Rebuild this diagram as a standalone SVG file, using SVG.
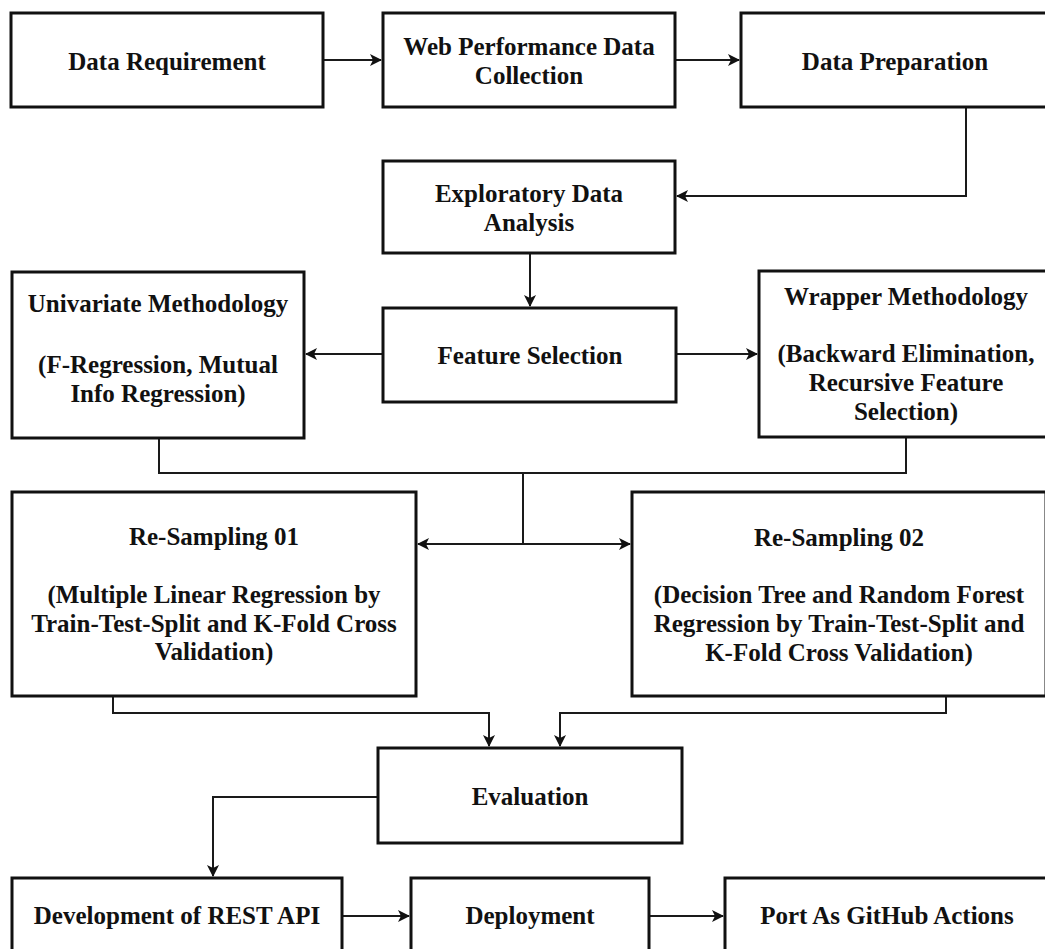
<svg xmlns="http://www.w3.org/2000/svg" width="1045" height="949" viewBox="0 0 1045 949">
<style>
.nodebox{fill:#fff;stroke:#111;stroke-width:3}
.link{fill:none;stroke:#1a1a1a;stroke-width:2}
</style>
<defs>
<marker id="ah" viewBox="0 0 12 12" refX="11" refY="6" markerWidth="12" markerHeight="12" markerUnits="userSpaceOnUse" orient="auto">
<path d="M0,0 L12,6 L0,12 L3,6 z" fill="#111"/>
</marker>
</defs>
<rect width="1045" height="949" fill="#fff"/>
<g id="connectors">
<path class="link" d="M323,60 H381" marker-end="url(#ah)"/>
<path class="link" d="M675,60 H739" marker-end="url(#ah)"/>
<path class="link" d="M966,107 V196 H677" marker-end="url(#ah)"/>
<path class="link" d="M530,253 V306" marker-end="url(#ah)"/>
<path class="link" d="M383,354 H306" marker-end="url(#ah)"/>
<path class="link" d="M676,354 H757" marker-end="url(#ah)"/>
<path class="link" d="M159,438 V473 H906 V437"/>
<path class="link" d="M523,473 V544"/>
<path class="link" d="M523,544 H418" marker-end="url(#ah)"/>
<path class="link" d="M523,544 H630" marker-end="url(#ah)"/>
<path class="link" d="M113,696 V713 H489 V746" marker-end="url(#ah)"/>
<path class="link" d="M946,696 V713 H560 V746" marker-end="url(#ah)"/>
<path class="link" d="M378,797 H213 V876" marker-end="url(#ah)"/>
<path class="link" d="M342,916 H409" marker-end="url(#ah)"/>
<path class="link" d="M649,916 H723" marker-end="url(#ah)"/>
</g>
<g id="nodes" font-weight="bold" font-size="25" fill="#111" text-anchor="middle">
<g id="data-requirement">
<rect class="nodebox" x="11" y="13" width="312" height="94"/>
<text font-family="Liberation Serif" x="167" y="70">Data Requirement</text>
</g>
<g id="web-performance">
<rect class="nodebox" x="383" y="13" width="292" height="94"/>
<text font-family="Liberation Serif" x="529" y="55">Web Performance Data</text>
<text font-family="Liberation Serif" x="529" y="84">Collection</text>
</g>
<g id="data-preparation">
<rect class="nodebox" x="741" y="13" width="310" height="94"/>
<text font-family="Liberation Serif" x="895" y="70">Data Preparation</text>
</g>
<g id="eda">
<rect class="nodebox" x="383" y="161" width="292" height="92"/>
<text font-family="Liberation Serif" x="529" y="202">Exploratory Data</text>
<text font-family="Liberation Serif" x="529" y="231">Analysis</text>
</g>
<g id="feature-selection">
<rect class="nodebox" x="383" y="308" width="293" height="94"/>
<text font-family="Liberation Serif" x="530" y="364">Feature Selection</text>
</g>
<g id="univariate">
<rect class="nodebox" x="12" y="272" width="292" height="166"/>
<text font-family="Liberation Serif" x="158" y="312">Univariate Methodology</text>
<text font-family="Liberation Serif" x="158" y="373">(F-Regression, Mutual</text>
<text font-family="Liberation Serif" x="158" y="402">Info Regression)</text>
</g>
<g id="wrapper">
<rect class="nodebox" x="759" y="271" width="294" height="166"/>
<text font-family="Liberation Serif" x="906" y="305">Wrapper Methodology</text>
<text font-family="Liberation Serif" x="906" y="362">(Backward Elimination,</text>
<text font-family="Liberation Serif" x="906" y="391">Recursive Feature</text>
<text font-family="Liberation Serif" x="906" y="420">Selection)</text>
</g>
<g id="resampling-01">
<rect class="nodebox" x="12" y="492" width="404" height="204"/>
<text font-family="Liberation Serif" x="214" y="545">Re-Sampling 01</text>
<text font-family="Liberation Serif" x="214" y="603">(Multiple Linear Regression by</text>
<text font-family="Liberation Serif" x="214" y="632">Train-Test-Split and K-Fold Cross</text>
<text font-family="Liberation Serif" x="214" y="660">Validation)</text>
</g>
<g id="resampling-02">
<rect class="nodebox" x="632" y="492" width="414" height="204"/>
<text font-family="Liberation Serif" x="839" y="546">Re-Sampling 02</text>
<text font-family="Liberation Serif" x="839" y="603">(Decision Tree and Random Forest</text>
<text font-family="Liberation Serif" x="839" y="632">Regression by Train-Test-Split and</text>
<text font-family="Liberation Serif" x="839" y="661">K-Fold Cross Validation)</text>
</g>
<g id="evaluation">
<rect class="nodebox" x="378" y="748" width="304" height="95"/>
<text font-family="Liberation Serif" x="530" y="805">Evaluation</text>
</g>
<g id="rest-api">
<rect class="nodebox" x="12" y="878" width="330" height="80"/>
<text font-family="Liberation Serif" x="177" y="924">Development of REST API</text>
</g>
<g id="deployment">
<rect class="nodebox" x="411" y="878" width="238" height="80"/>
<text font-family="Liberation Serif" x="530" y="924">Deployment</text>
</g>
<g id="github-actions">
<rect class="nodebox" x="725" y="878" width="325" height="80"/>
<text font-family="Liberation Serif" x="887" y="924">Port As GitHub Actions</text>
</g>
</g>
</svg>
